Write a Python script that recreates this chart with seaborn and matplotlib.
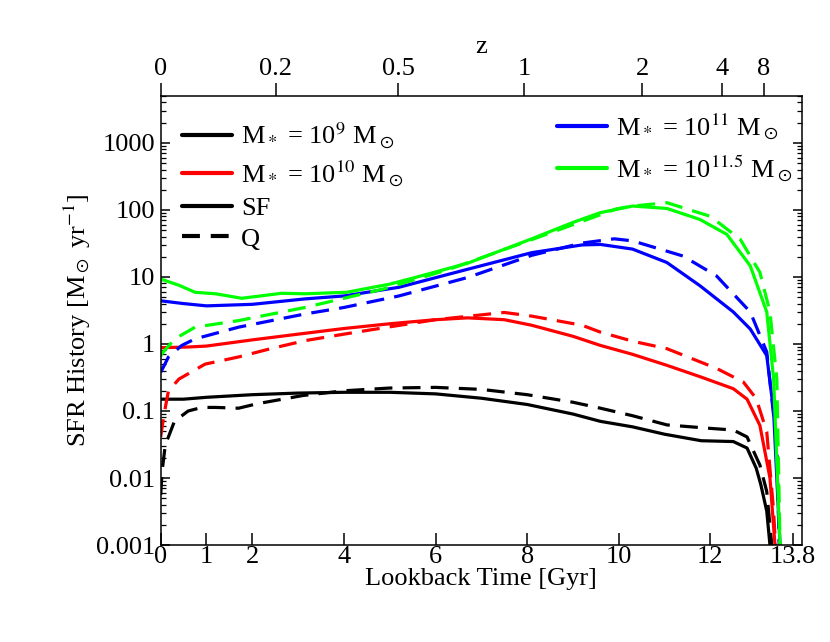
import numpy as np
import pandas as pd
import matplotlib
matplotlib.use('Agg')
import matplotlib.pyplot as plt
import seaborn as sns
from matplotlib.lines import Line2D
from matplotlib.ticker import FixedLocator, FuncFormatter, LogLocator, NullFormatter

# ---- data: lookback time [Gyr] and SFR [Msun/yr] ----
t_9_sf = [0, 0.5, 1, 2, 3, 4, 5, 6, 7, 8, 9, 9.6, 10.3, 11, 11.8, 12.5, 12.8, 13.0, 13.1, 13.23, 13.3]
v_9_sf = [0.15, 0.15, 0.16, 0.175, 0.185, 0.19, 0.19, 0.18, 0.155, 0.125, 0.09, 0.07, 0.058, 0.045,
          0.036, 0.035, 0.028, 0.014, 0.008, 0.0032, 0.001]
t_9_q = [0, 0.03, 0.1, 0.3, 0.6, 0.9, 1.2, 1.7, 2.1, 3.1, 4, 5, 6, 7, 8, 9, 9.6, 10.3, 11.05,
         12, 12.5, 12.8, 13.08, 13.23, 13.34]
v_9_q = [0.0056, 0.0125, 0.031, 0.07, 0.1, 0.113, 0.113, 0.11, 0.128, 0.17, 0.2, 0.22, 0.225, 0.21,
         0.175, 0.135, 0.11, 0.085, 0.062, 0.055, 0.052, 0.041, 0.0156, 0.0063, 0.001]

t_10_sf = [0, 0.6, 1, 2, 3, 4, 5, 6, 6.7, 7.5, 8.1, 9, 9.6, 10.3, 11.05, 11.8, 12.5, 12.8,
           13.08, 13.3, 13.41]
v_10_sf = [0.88, 0.9, 0.93, 1.15, 1.4, 1.7, 2.0, 2.3, 2.45, 2.3, 1.9, 1.3, 0.95, 0.7, 0.48, 0.32,
           0.215, 0.15, 0.061, 0.01, 0.001]
t_10_q = [0, 0.07, 0.17, 0.4, 0.97, 1.7, 2.4, 3.15, 4, 5, 6, 7.5, 8.1, 9.2, 9.6, 10.3, 11.05,
          12.14, 12.72, 13.0, 13.23, 13.38, 13.42]
v_10_q = [0.041, 0.087, 0.2, 0.3, 0.5, 0.64, 0.85, 1.12, 1.4, 1.8, 2.3, 2.95, 2.6, 1.9, 1.5, 1.1,
          0.85, 0.43, 0.27, 0.153, 0.049, 0.0032, 0.001]

t_11_sf = [0, 0.5, 1, 2, 3.15, 4, 5.2, 6.7, 8.1, 9.2, 9.6, 10.3, 11.05, 11.77, 12.5, 12.87,
           13.23, 13.38, 13.52]
v_11_sf = [4.4, 4.0, 3.7, 3.9, 4.7, 5.2, 7.0, 13, 23, 30, 30.5, 26, 16.4, 7.4, 3.0, 1.67, 0.67,
           0.098, 0.001]
t_11_q = [0, 0.02, 0.17, 0.46, 0.75, 1.7, 3.15, 4, 5.2, 6.7, 8.1, 9.2, 9.9, 10.3, 11.4, 12.13,
          12.87, 13.23, 13.45, 13.5]
v_11_q = [0.38, 0.4, 0.64, 0.95, 1.19, 1.78, 2.8, 3.5, 5.2, 9.8, 21, 32, 37, 34.5, 20.5, 10.4,
          3.0, 0.76, 0.031, 0.001]

t_115_sf = [0, 0.4, 0.75, 1.2, 1.77, 2.64, 3.15, 4.06, 5, 5.6, 6.7, 8.1, 9.0, 9.6, 10.3, 11.05,
            11.77, 12.36, 12.87, 13.23, 13.38, 13.52]
v_115_sf = [9.3, 7.5, 5.9, 5.6, 4.8, 5.7, 5.6, 5.9, 7.8, 10, 16, 37, 65, 91, 114, 105, 72, 43,
            14.6, 3.0, 0.3, 0.001]
t_115_q = [0, 0.02, 0.31, 0.75, 1.7, 3.15, 4.86, 6.3, 8.1, 9.96, 10.3, 11.05, 12.0, 12.65,
           13.08, 13.3, 13.45, 13.52]
v_115_q = [0.65, 0.71, 1.19, 1.78, 2.23, 3.5, 6.6, 13, 36, 104, 114, 128, 80, 36.5, 11.7, 3.0,
           0.3, 0.001]

masses = ['9', '10', '11', '11.5']
mass_colors = ['black', 'red', 'blue', '#00ff00']
x_ticks = [0, 1, 2, 4, 6, 8, 10, 12, 13.8]
z_ticks = [0, 0.2, 0.5, 1, 2, 4, 8]

series = {
    ('9', 'SF'): (t_9_sf, v_9_sf), ('9', 'Q'): (t_9_q, v_9_q),
    ('10', 'SF'): (t_10_sf, v_10_sf), ('10', 'Q'): (t_10_q, v_10_q),
    ('11', 'SF'): (t_11_sf, v_11_sf), ('11', 'Q'): (t_11_q, v_11_q),
    ('11.5', 'SF'): (t_115_sf, v_115_sf), ('11.5', 'Q'): (t_115_q, v_115_q),
}
rows = []
for (m, kind), (ts, vs) in series.items():
    for t, v in zip(ts, vs):
        rows.append({'mass': m, 'type': kind, 't': t, 'sfr': v})
df = pd.DataFrame(rows)


def lookback(z, H0=67.8, Om=0.308):
    # flat LCDM lookback time in Gyr
    if z == 0:
        return 0.0
    zz = np.linspace(0, z, 2000)
    E = np.sqrt(Om * (1 + zz) ** 3 + 1 - Om)
    return 977.8 / H0 * np.trapezoid(1.0 / ((1 + zz) * E), zz)


sns.set_theme(style='ticks')
plt.rcParams['font.family'] = ['Liberation Serif', 'DejaVu Serif']
plt.rcParams['mathtext.fontset'] = 'stix'
for key in ['text.color', 'axes.labelcolor', 'xtick.color', 'ytick.color', 'axes.edgecolor']:
    plt.rcParams[key] = 'black'
FS = 19

fig = plt.figure(figsize=(8.3, 6.42), dpi=100)
ax = fig.add_axes([0.1936, 0.151, 0.7727, 0.6995])

lw = 2.3
sns.lineplot(data=df, x='t', y='sfr', hue='mass', style='type',
             hue_order=masses, palette=mass_colors, style_order=['SF', 'Q'],
             dashes={'SF': '', 'Q': (5.6, 3.2)}, estimator=None, sort=False,
             linewidth=lw, legend=False, ax=ax)

ax.set_yscale('log')
ax.set_xlim(0, 14)
ax.set_ylim(0.001, 5000)

ax.set_xticks(x_ticks)
ax.set_xticklabels(['%g' % v for v in x_ticks])
ax.yaxis.set_major_locator(FixedLocator([1e-3, 1e-2, 1e-1, 1, 10, 100, 1000]))
ax.yaxis.set_major_formatter(FuncFormatter(lambda v, p: '%g' % v))
ax.yaxis.set_minor_locator(LogLocator(base=10, subs=np.arange(2, 10), numticks=20))
ax.yaxis.set_minor_formatter(NullFormatter())
ax.tick_params(axis='both', which='major', direction='in', width=1.1,
               labelsize=FS, colors='black', pad=4)
ax.tick_params(axis='x', which='major', length=8.6, pad=1)
ax.tick_params(axis='y', which='both', right=True, direction='in')
ax.tick_params(axis='y', which='major', length=6.5)
ax.tick_params(axis='y', which='minor', length=3.8, width=0.9)
ax.tick_params(axis='x', which='both', top=False)

ax.set_xlabel('Lookback Time [Gyr]', fontsize=FS, labelpad=0)
ax.set_ylabel(r'SFR History [M$_\odot$ yr$^{-1}$]', fontsize=FS, labelpad=2)
for s in ax.spines.values():
    s.set_linewidth(1.1)

# top redshift axis
ax2 = ax.twiny()
ax2.set_xlim(ax.get_xlim())
ax2.set_xticks([lookback(z) for z in z_ticks])
ax2.set_xticklabels(['%g' % z for z in z_ticks])
ax2.tick_params(axis='x', direction='out', length=9.4, width=1.1, labelsize=FS, pad=2,
                colors='black')
ax2.set_xlabel('z', fontsize=FS, labelpad=4)
for s in ax2.spines.values():
    s.set_visible(False)

# legends
h9 = Line2D([], [], color='black', lw=3)
h10 = Line2D([], [], color='red', lw=3)
hsf = Line2D([], [], color='black', lw=3)
hq = Line2D([], [], color='black', lw=3, dashes=(4.3, 2.6))
h11 = Line2D([], [], color='blue', lw=3)
h115 = Line2D([], [], color='#00ff00', lw=3)
leg1 = ax.legend([h9, h10, hsf, hq],
                 [r'M$_*$ = 10$^{9}$ M$_\odot$', r'M$_*$ = 10$^{10}$ M$_\odot$', 'SF', 'Q'],
                 loc='upper left', bbox_to_anchor=(0.033, 0.945), frameon=False,
                 fontsize=FS, handlelength=1.9, handletextpad=0.35, labelspacing=0.28,
                 borderpad=0, borderaxespad=0)
ax.add_artist(leg1)
ax.legend([h11, h115], [r'M$_*$ = 10$^{11}$ M$_\odot$', r'M$_*$ = 10$^{11.5}$ M$_\odot$'],
          loc='upper right', bbox_to_anchor=(0.985, 0.965), frameon=False,
          fontsize=FS, handlelength=1.9, handletextpad=0.35, labelspacing=0.4,
          borderpad=0, borderaxespad=0)

fig.savefig('out.png', dpi=100)
